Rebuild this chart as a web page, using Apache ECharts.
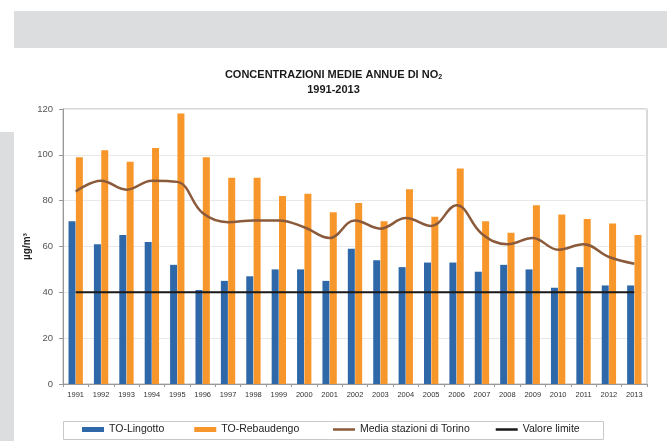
<!DOCTYPE html>
<html>
<head>
<meta charset="utf-8">
<script src="https://cdn.jsdelivr.net/npm/echarts@6/dist/echarts.min.js"></script>
<style>
html,body{margin:0;padding:0;background:#fff;}
#c{width:667px;height:441px;}
</style>
</head>
<body>
<div id="c"></div>
<script>
var years = ['1991','1992','1993','1994','1995','1996','1997','1998','1999','2000','2001','2002','2003','2004','2005','2006','2007','2008','2009','2010','2011','2012','2013'];
var lingotto = [71,61,65,62,52,41,45,47,50,50,45,59,54,51,53,53,49,52,50,42,51,43,43];
var rebaudengo = [99,102,97,103,118,99,90,90,82,83,75,79,71,85,73,94,71,66,78,74,72,70,65];
var mediaTorino = [84,88.7,84.8,88.7,88.2,74.6,70.6,71.4,71.4,68.4,63.7,71.4,67.8,72.4,69,78,65.5,61,63.7,58.6,61,55.4,52.5];
var valoreLimite = [40,40,40,40,40,40,40,40,40,40,40,40,40,40,40,40,40,40,40,40,40,40,40];
var yTicks = {min:0, max:120, interval:20};

var chart = echarts.init(document.getElementById('c'), null, {renderer:'canvas'});
var font = 'Liberation Sans, Arial, sans-serif';
var legendText = {fontSize:10.5, color:'#222', fontFamily:font};
chart.setOption({
  backgroundColor:'#ffffff',
  animation:false,
  textStyle:{fontFamily:font},
  graphic:[
    {type:'rect', shape:{x:14,y:11,width:653,height:37}, style:{fill:'#dcdddf'}, silent:true, z:-10},
    {type:'rect', shape:{x:0,y:132,width:14,height:309}, style:{fill:'#dcdddf'}, silent:true, z:-10},
    {type:'rect', shape:{x:63.5,y:421.5,width:540,height:18}, style:{fill:'#fff', stroke:'#c8c8c8', lineWidth:1}, silent:true, z:-5}
  ],
  title:{
    left:'center', top:62,
    text:'{a|CONCENTRAZIONI MEDIE ANNUE DI NO}{s|2}\n{a|1991-2013}',
    textStyle:{
      rich:{
        a:{fontSize:11, fontWeight:'bold', color:'#1a1a1a', lineHeight:15, fontFamily:font},
        s:{fontSize:7, fontWeight:'bold', color:'#1a1a1a', lineHeight:15, padding:[6,0,0,0], fontFamily:font}
      }
    }
  },
  grid:{left:63, right:20, top:109, bottom:57, show:true, borderColor:'#b5b5b5', borderWidth:1, backgroundColor:'transparent'},
  legend:[
    {
      left:82, top:424, padding:0,
      itemGap:30, itemWidth:22, itemHeight:5,
      textStyle:legendText,
      data:[{name:'TO-Lingotto', icon:'rect'},{name:'TO-Rebaudengo', icon:'rect'}]
    },
    {
      left:333, top:424, padding:0,
      itemGap:26, itemWidth:22, itemHeight:2.5,
      textStyle:legendText,
      data:[{name:'Media stazioni di Torino', icon:'rect'},{name:'Valore limite', icon:'rect'}]
    }
  ],
  xAxis:{
    type:'category', data:years, boundaryGap:true,
    axisLine:{lineStyle:{color:'#999'}},
    axisTick:{show:true, alignWithLabel:false, length:3, lineStyle:{color:'#999'}},
    axisLabel:{fontSize:7.5, color:'#333', margin:7, interval:0}
  },
  yAxis:{
    type:'value', min:yTicks.min, max:yTicks.max, interval:yTicks.interval,
    name:'µg/m³', nameLocation:'middle', nameRotate:90, nameGap:31, nameMoveOverlap:false,
    nameTextStyle:{fontSize:10, fontWeight:'bold', color:'#222'},
    axisLine:{show:true, lineStyle:{color:'#999'}},
    axisTick:{show:true, length:4, lineStyle:{color:'#999'}},
    axisLabel:{fontSize:9.5, color:'#555', margin:10},
    splitLine:{lineStyle:{color:'#e8e8e8'}}
  },
  series:[
    {name:'TO-Lingotto', type:'bar', data:lingotto, barWidth:7, barGap:'5%', itemStyle:{color:'#2f68a8'}},
    {name:'TO-Rebaudengo', type:'bar', data:rebaudengo, barWidth:7, itemStyle:{color:'#f7962a'}},
    {name:'Media stazioni di Torino', type:'line', data:mediaTorino, smooth:0.4, symbol:'none', lineStyle:{color:'#8a5a3a', width:2.5}, itemStyle:{color:'#8a5a3a'}, z:3},
    {name:'Valore limite', type:'line', data:valoreLimite, symbol:'none', lineStyle:{color:'#1a1a1a', width:2}, itemStyle:{color:'#1a1a1a'}, z:4}
  ]
});
</script>
</body>
</html>
